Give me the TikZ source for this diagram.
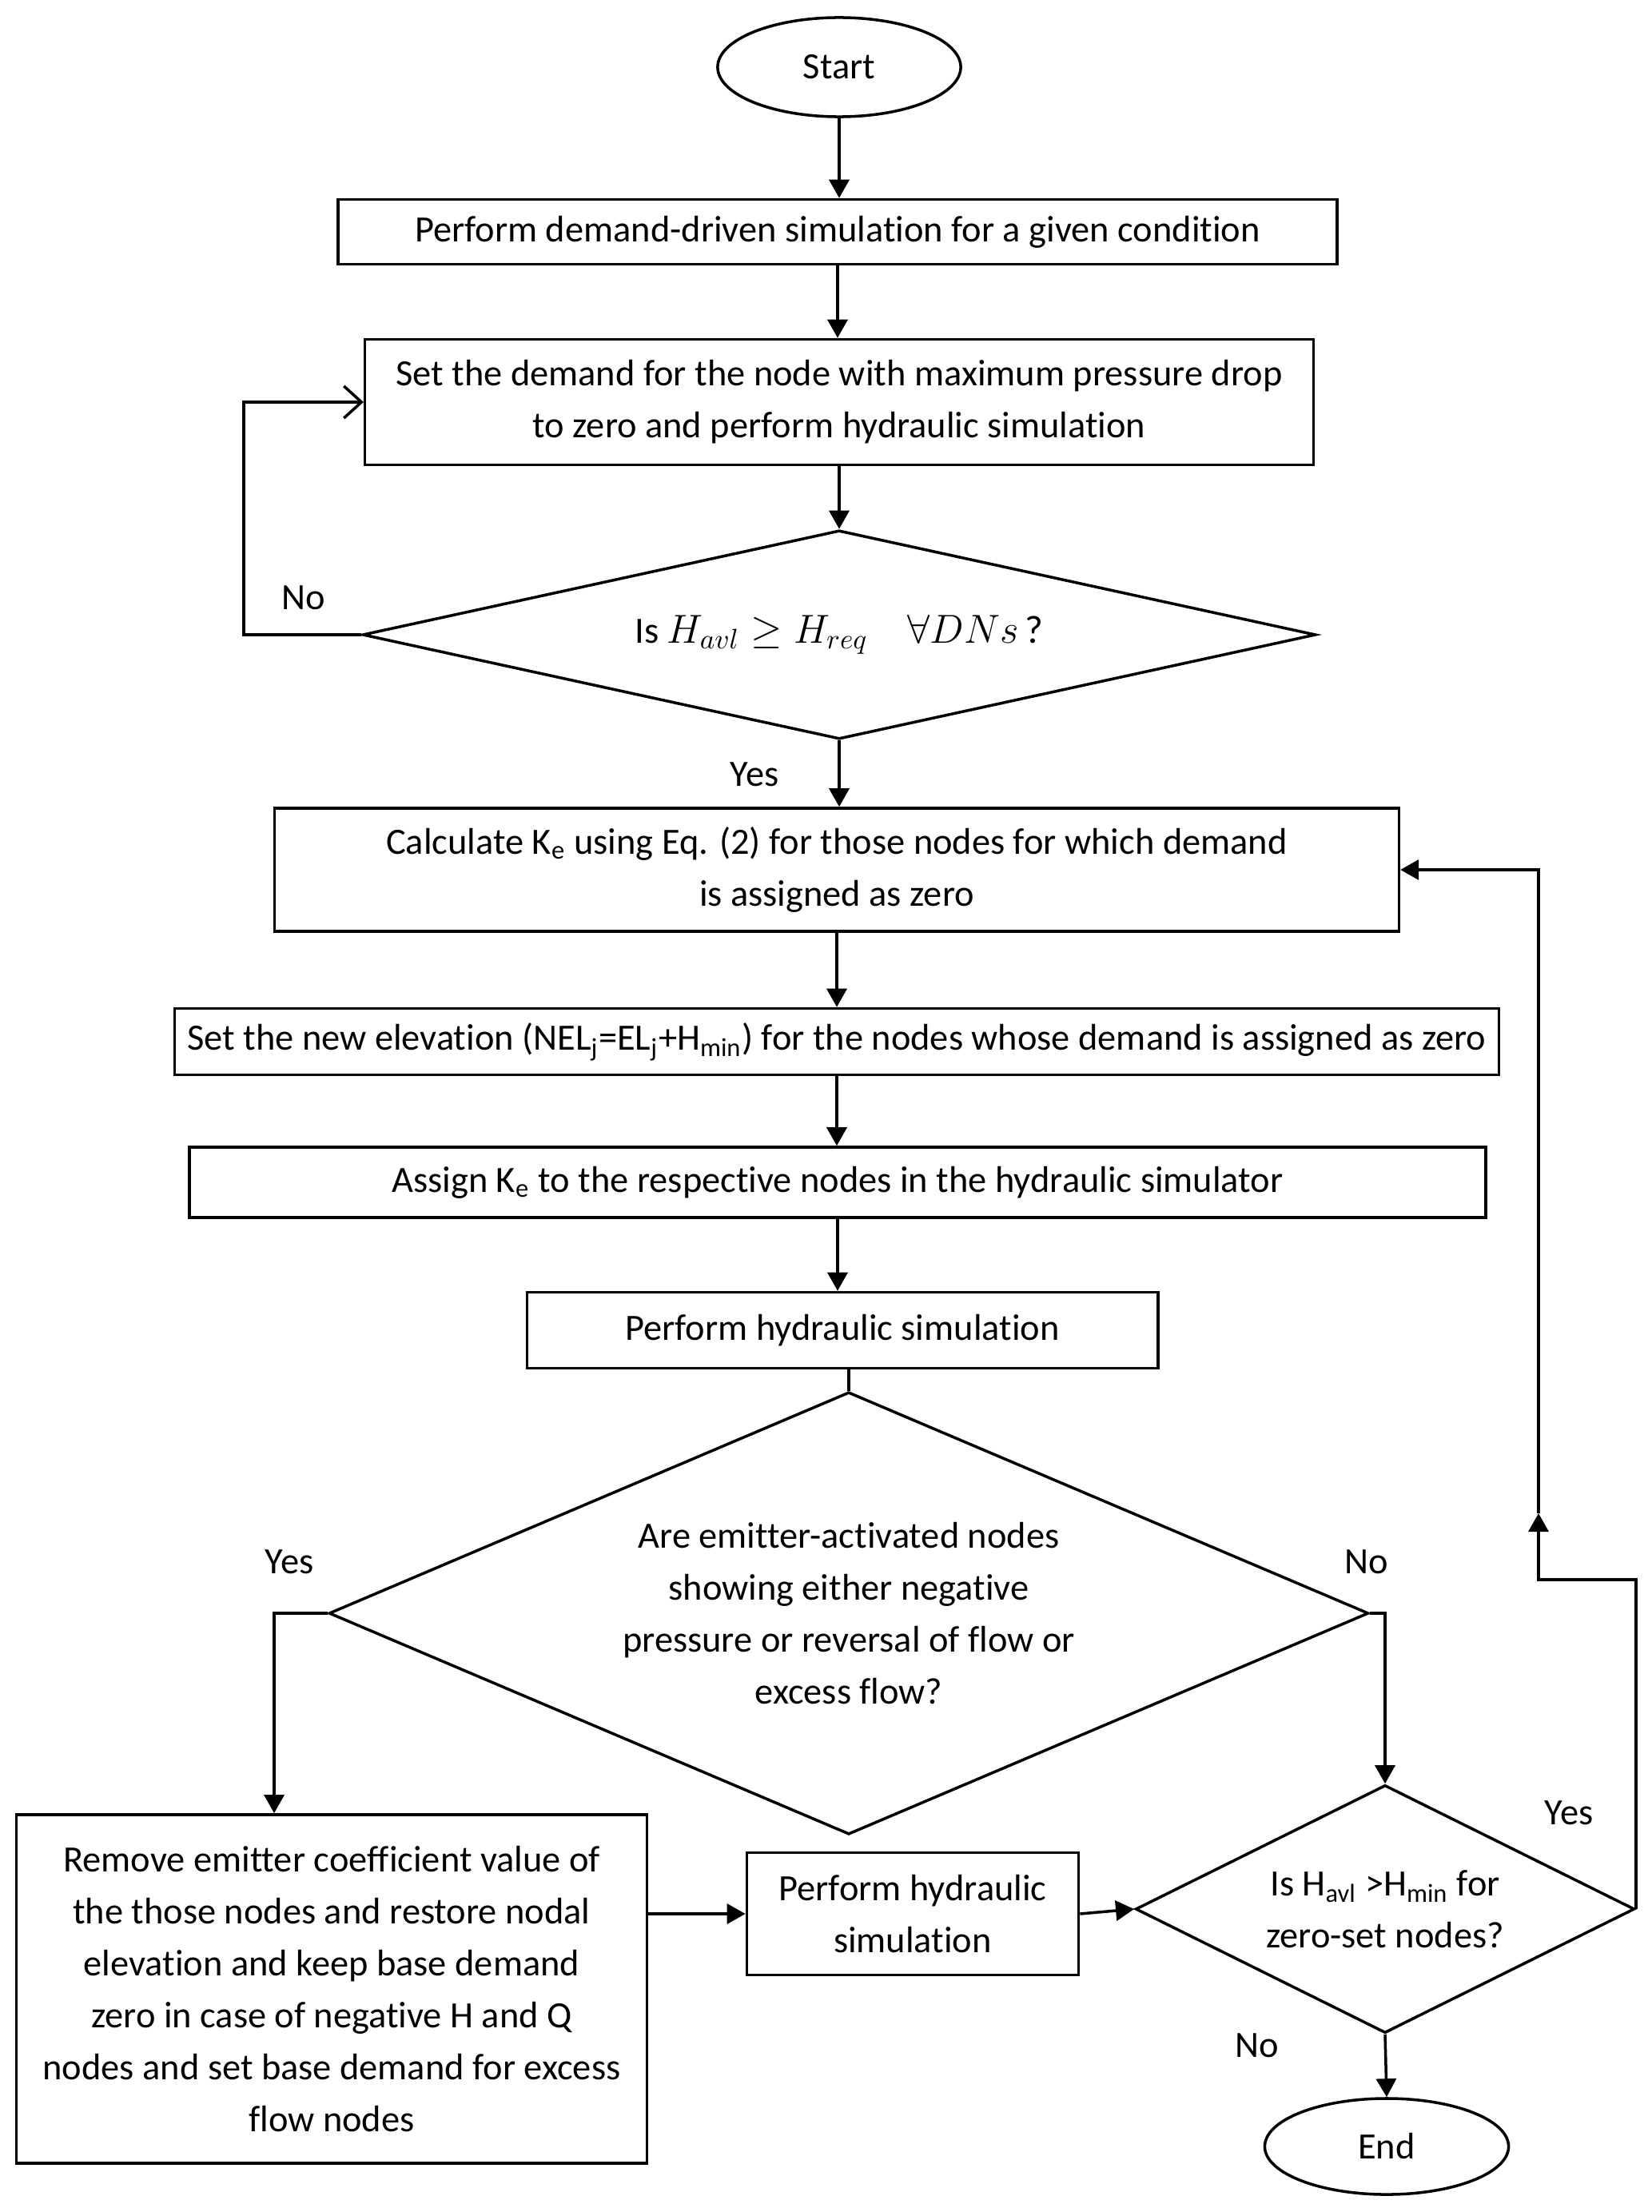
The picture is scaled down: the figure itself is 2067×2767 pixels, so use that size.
\documentclass[tikz,border=0pt]{standalone}
\usepackage{fontspec}
\setmainfont{Carlito}[Ligatures=NoCommon]
\usetikzlibrary{arrows.meta,positioning,shapes.geometric}

\begin{document}
\begin{tikzpicture}[x=0.01cm,y=-0.01cm,
    font=\fontsize{13.2}{18.5}\selectfont,
    box/.style={draw,line width=1pt,rectangle,align=center,inner sep=0pt},
    decision/.style={draw,line width=1pt,diamond,align=center,inner sep=0pt},
    terminal/.style={draw,line width=1pt,ellipse,inner sep=0pt},
    arr/.style={line width=1pt,-{Triangle[length=0.23cm,width=0.25cm]}},
    tag/.style={inner sep=0pt}]
  \useasboundingbox (0,0) rectangle (2067,2767);
  % main column
  \node[terminal,minimum width=3.04cm,minimum height=1.24cm] (start) at (1050,84) {Start};
  \node[box,minimum width=12.49cm,minimum height=0.81cm] (dds) at (1048,290)
    {Perform demand-driven simulation for a given condition};
  \node[box,minimum width=11.86cm,minimum height=1.57cm] (zero) at (1050,503)
    {Set the demand for the node with maximum pressure drop\\ to zero and perform hydraulic simulation};
  \node[decision,aspect=4.57,minimum width=11.92cm,minimum height=2.61cm] (chk) at (1050,794)
    {Is {\fontsize{14}{18}\selectfont$H_{avl}\geq H_{req}\quad\forall DNs\,$?}};
  \node[box,minimum width=14.06cm,minimum height=1.54cm] (ke) at (1047,1088)
    {Calculate K\textsubscript{e} using Eq. (2) for those nodes for which demand\\ is assigned as zero};
  \node[box,minimum width=16.56cm,minimum height=0.83cm] (nel) at (1047,1303)
    {Set the new elevation (NEL\textsubscript{j}=EL\textsubscript{j}+H\textsubscript{min}) for the nodes whose demand is assigned as zero};
  \node[box,minimum width=16.21cm,minimum height=0.88cm] (assign) at (1048,1479)
    {Assign K\textsubscript{e} to the respective nodes in the hydraulic simulator};
  \node[box,minimum width=7.89cm,minimum height=0.95cm] (sim) at (1054,1664)
    {Perform hydraulic simulation};
  \node[decision,aspect=2.35,minimum width=13.0cm,minimum height=5.53cm] (emit) at (1062,2018)
    {Are emitter-activated nodes\\ showing either negative\\ pressure or reversal of flow or\\ excess flow?};
  % bottom row
  \node[box,minimum width=7.89cm,minimum height=4.36cm] (restore) at (415,2488)
    {Remove emitter coefficient value of\\ the those nodes and restore nodal\\ elevation and keep base demand\\
     zero in case of negative H and Q\\ nodes and set base demand for excess\\ flow nodes};
  \node[box,minimum width=4.15cm,minimum height=1.53cm] (resim) at (1142,2394)
    {Perform hydraulic\\ simulation};
  \node[decision,aspect=2.01,minimum width=6.24cm,minimum height=3.10cm] (zchk) at (1733,2388)
    {Is H\textsubscript{avl} >H\textsubscript{min} for\\ zero-set nodes?};
  \node[terminal,minimum width=3.05cm,minimum height=1.2cm] (end) at (1735,2685) {End};
  % labels
  \node[tag] (no1) at (380,748) {No};
  \node[tag] (yes1) at (944,969) {Yes};
  \node[tag] (yes2) at (362,1954) {Yes};
  \node[tag] (no2) at (1710,1954) {No};
  \node[tag] (yes3) at (1963,2268) {Yes};
  \node[tag] (no3) at (1573,2559) {No};
  % bends
  \coordinate (nol) at (305,794);
  \coordinate (yesl) at (343,2018);
  \coordinate (ryes) at (1925,1976);
  \coordinate (rup) at (1925,1893);
  % connectors
  \draw[arr] (start.south) -- (start.south |- dds.north);
  \draw[arr] (dds.south) -- (dds.south |- zero.north);
  \draw[arr] (zero.south) -- (chk.north);
  \draw[line width=1pt,-{Straight Barb[length=0.22cm,width=0.4cm]}] (chk.west) -- (nol) |- (zero.west);
  \draw[arr] (chk.south) -- (chk.south |- ke.north);
  \draw[arr] (ke.south) -- (ke.south |- nel.north);
  \draw[arr] (nel.south) -- (nel.south |- assign.north);
  \draw[arr] (assign.south) -- (assign.south |- sim.north);
  \draw[line width=1pt] (emit.north |- sim.south) -- (emit.north);
  \draw[arr] (emit.west) -- (yesl) -- (yesl |- restore.north);
  \draw[arr] (emit.east) -| (zchk.north);
  \draw[arr] (restore.east |- resim.west) -- (resim.west);
  \draw[arr] (resim.east) -- (zchk.west);
  \draw[arr] (zchk.south) -- (end.north);
  \draw[arr] (zchk.east) |- (ryes) -- (rup);
  \draw[arr] (rup) |- (ke.east);
\end{tikzpicture}
\end{document}
